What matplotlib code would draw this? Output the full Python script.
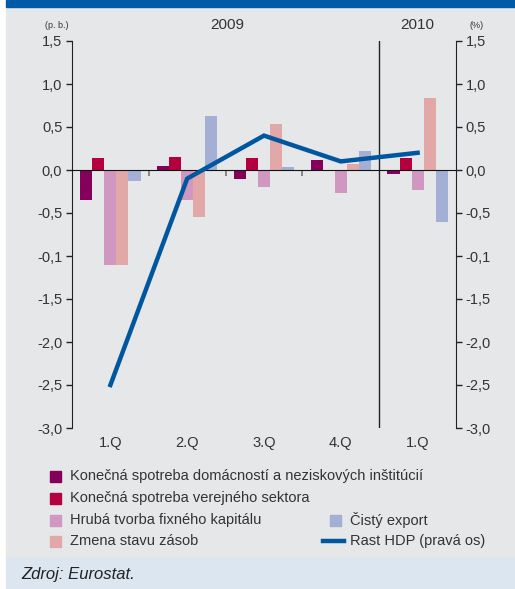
import numpy as np
import matplotlib
matplotlib.use('Agg')
import matplotlib.pyplot as plt
from matplotlib.patches import Rectangle
from matplotlib.lines import Line2D

plt.rcParams['font.family'] = ['Liberation Sans Narrow', 'Liberation Sans', 'DejaVu Sans']

# data
quarters = ['1.Q', '2.Q', '3.Q', '4.Q', '1.Q']
years = ['2009', '2010']
series = ['Konečná spotreba domácností a neziskových inštitúcií',
          'Konečná spotreba verejného sektora',
          'Hrubá tvorba fixného kapitálu',
          'Zmena stavu zásob',
          'Čistý export']
households = [-0.35, 0.05, -0.11, 0.12, -0.05]
government = [0.14, 0.155, 0.14, 0.0, 0.14]
fixed_capital = [-1.10, -0.35, -0.20, -0.27, -0.23]
inventories = [-1.11, -0.55, 0.54, 0.07, 0.84]
net_export = [-0.13, 0.63, 0.04, 0.22, -0.60]
gdp = [-2.5, -0.1, 0.4, 0.1, 0.2]
line_label = 'Rast HDP (pravá os)'
ytick_vals = [-3.0, -2.5, -2.0, -1.5, -1.0, -0.5, 0.0, 0.5, 1.0, 1.5]
ytick_labels = ['-3,0', '-2,5', '-2,0', '-1,5', '-0,1', '-0,5', '0,0', '0,5', '1,0', '1,5']

colors = ['#84005A', '#B5003F', '#D098C1', '#E2A7A7', '#A3AFD4']
line_color = '#00579F'
text_color = '#333333'

W, H = 515, 589
def fx(x):
    return x / W
def fy(y):
    return 1 - y / H

fig = plt.figure(figsize=(W / 100, H / 100), dpi=100, facecolor='white')
# background bands
fig.add_artist(Rectangle((fx(6), fy(558)), 1 - fx(6), (558 - 7) / H, transform=fig.transFigure,
                         color='#E6E7E9', zorder=0))
fig.add_artist(Rectangle((fx(6), fy(7)), 1 - fx(6), 7 / H, transform=fig.transFigure,
                         color='#005BA6', zorder=0))
fig.add_artist(Rectangle((fx(6), 0), 1 - fx(6), (H - 558) / H, transform=fig.transFigure,
                         color='#DCE6F1', zorder=0))

ax = fig.add_axes([fx(72), fy(428), (456 - 72) / W, (428 - 41) / H])
ax.set_facecolor('none')
x = np.arange(len(quarters))
w = 0.157
values = [households, government, fixed_capital, inventories, net_export]
for i, vals in enumerate(values):
    ax.bar(x + (i - 2) * w, vals, width=w, color=colors[i], zorder=2)

ax.set_xlim(-0.5, 4.5)
ax.set_ylim(-3.0, 1.5)
ax.set_yticks(ytick_vals)
ax.set_yticklabels(ytick_labels)
ax.tick_params(axis='y', direction='out', length=4, width=1, color='#222222',
               labelsize=10.5, labelcolor=text_color, pad=3)
for s in ['top', 'right']:
    ax.spines[s].set_visible(False)
ax.spines['left'].set_color('#222222')
ax.spines['bottom'].set_position(('data', 0))
ax.spines['bottom'].set_color('#111111')
ax.spines['bottom'].set_zorder(3)
ax.set_xticks([0.5, 1.5, 2.5])
ax.set_xticklabels([])
ax.tick_params(axis='x', direction='out', length=4, width=1.2, color='#777777')
ax.axvline(3.5, color='#222222', lw=1, zorder=1)

# category labels at bottom
sec = ax.secondary_xaxis('bottom')
sec.set_xticks(x)
sec.set_xticklabels(quarters)
sec.spines['bottom'].set_visible(False)
sec.tick_params(length=0, labelsize=10.5, labelcolor=text_color, pad=6)

ax2 = ax.twinx()
ax2.set_ylim(-3.0, 1.5)
ax2.set_yticks(ytick_vals)
ax2.set_yticklabels(ytick_labels)
ax2.tick_params(axis='y', direction='out', length=4, width=1, color='#222222',
                labelsize=10.5, labelcolor=text_color, pad=3)
for s in ['top', 'left', 'bottom']:
    ax2.spines[s].set_visible(False)
ax2.spines['right'].set_color('#222222')
ax2.plot(x, gdp, color=line_color, lw=3.2, solid_joinstyle='miter', zorder=4)

# header texts
fig.text(fx(227), fy(25), years[0], ha='center', va='center', fontsize=11, color=text_color)
fig.text(fx(417), fy(25), years[1], ha='center', va='center', fontsize=11, color=text_color)
fig.text(fx(57), fy(26), '(p. b.)', ha='center', va='center', fontsize=6.5, color=text_color)
fig.text(fx(477), fy(26), '(%)', ha='center', va='center', fontsize=6.5, color=text_color)

# legend
sq = 11
leg_pos = [(50, 476), (50, 498), (50, 520), (50, 541), (330, 520)]
for i, (lx, ly) in enumerate(leg_pos):
    fig.add_artist(Rectangle((fx(lx), fy(ly + sq / 2)), sq / W, sq / H,
                             transform=fig.transFigure, color=colors[i]))
    fig.text(fx(lx + 20), fy(ly), series[i], ha='left', va='center',
             fontsize=10.5, color=text_color)
fig.add_artist(Line2D([fx(323), fx(344)], [fy(541), fy(541)], transform=fig.transFigure,
                      color=line_color, lw=3.2))
fig.text(fx(350), fy(541), line_label, ha='left', va='center', fontsize=10.5, color=text_color)

fig.text(fx(21), fy(575), 'Zdroj: Eurostat.', ha='left', va='center', fontsize=12,
         style='italic', color='#222222')

fig.savefig('out.png', dpi=100, facecolor=fig.get_facecolor())
